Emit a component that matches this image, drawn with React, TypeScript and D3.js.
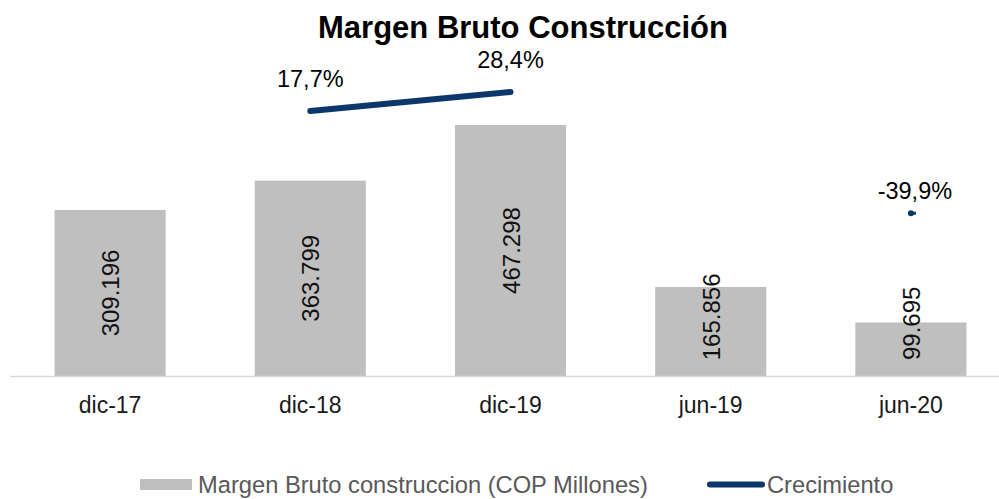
import React from "react";
import * as d3 from "d3";

const categories = ["dic-17", "dic-18", "dic-19", "jun-19", "jun-20"];
const margenBruto = [309196, 363799, 467298, 165856, 99695];
const crecimiento: (number | null)[] = [null, 17.7, 28.4, null, -39.9];
const title = "Margen Bruto Construcción";
const legendBar = "Margen Bruto construccion (COP Millones)";
const legendLine = "Crecimiento";

const W = 999;
const H = 499;
const FONT = "'Liberation Sans', Arial, sans-serif";
const BAR_COLOR = "#BFBFBF";
const LINE_COLOR = "#0B376B";

const locale = d3.formatLocale({ decimal: ",", thousands: ".", grouping: [3], currency: ["$", ""], minus: "-" });
const fmtInt = locale.format(",.0f");
const fmtPct = (v: number) => locale.format(".1f")(v).replace("\u2212", "-") + "%";

export default function App() {
  const x = d3.scaleBand<string>().domain(categories).range([10, 1011]).paddingInner(0.445).paddingOuter(0.2225);
  const y = d3.scaleLinear().domain([0, 500000]).range([376, 107.45]);
  const y2 = d3.scaleLinear().domain([-100, 60]).range([320, 35.84]);
  const cx = (c: string) => (x(c) as number) + x.bandwidth() / 2;

  const pts = categories.map((c, i) => ({ c, v: crecimiento[i] }));
  const line = d3
    .line<{ c: string; v: number | null }>()
    .defined((d) => d.v !== null)
    .x((d) => cx(d.c))
    .y((d) => y2(d.v as number));

  const isolated = (i: number) =>
    crecimiento[i] !== null &&
    (i === 0 || crecimiento[i - 1] === null) &&
    (i === crecimiento.length - 1 || crecimiento[i + 1] === null);

  const labelLen = (s: string) => s.length * 12.9;
  const legendBase = 493;

  return (
    <svg width={W} height={H} style={{ position: "absolute", left: 0, top: 0 }} fontFamily={FONT}>
      <rect width={W} height={H} fill="#fff" />
      <text x={523} y={37.5} textAnchor="middle" fontSize={31} fontWeight="bold" fill="#000">
        {title}
      </text>

      {/* bars */}
      {categories.map((c, i) => (
        <rect key={c} x={x(c)} y={y(margenBruto[i])} width={x.bandwidth()} height={y(0) - y(margenBruto[i])} fill={BAR_COLOR} />
      ))}

      {/* axis line */}
      <line x1={10} x2={999} y1={y(0) + 0.5} y2={y(0) + 0.5} stroke="#D9D9D9" strokeWidth={1.5} />

      {/* category labels */}
      {categories.map((c) => (
        <text key={c} x={cx(c)} y={413} textAnchor="middle" fontSize={23} fill="#1a1a1a">
          {c}
        </text>
      ))}

      {/* bar value labels */}
      {categories.map((c, i) => {
        const s = fmtInt(margenBruto[i]);
        const mid = (y(margenBruto[i]) + y(0)) / 2;
        const cy = Math.min(mid, y(0) - 14 - labelLen(s) / 2);
        return (
          <text
            key={c}
            transform={`translate(${cx(c) + 0.5},${cy}) rotate(-90)`}
            textAnchor="middle"
            dominantBaseline="central"
            fontSize={24}
            fill="#111"
          >
            {s}
          </text>
        );
      })}

      {/* growth line */}
      <path d={line(pts) || ""} fill="none" stroke={LINE_COLOR} strokeWidth={6} strokeLinecap="round" />
      {pts.map((p, i) =>
        isolated(i) ? (
          <rect key={p.c} x={cx(p.c) - 2} y={y2(p.v as number) - 1.5} width={7} height={3} fill={LINE_COLOR} />
        ) : null
      )}
      {pts.map((p, i) =>
        p.v !== null ? (
          <text key={p.c} x={cx(p.c) + (isolated(i) ? 4 : 0)} y={y2(p.v) - (isolated(i) ? 14.5 : 23.5)} textAnchor="middle" fontSize={23.5} fill="#000">
            {fmtPct(p.v)}
          </text>
        ) : null
      )}

      {/* legend */}
      <rect x={140} y={legendBase - 14} width={52} height={11} fill={BAR_COLOR} />
      <text x={198} y={legendBase} fontSize={23.7} fill="#595959">
        {legendBar}
      </text>
      <line x1={710} x2={762} y1={legendBase - 8.5} y2={legendBase - 8.5} stroke={LINE_COLOR} strokeWidth={6} strokeLinecap="round" />
      <text x={767} y={legendBase} fontSize={23.7} fill="#595959">
        {legendLine}
      </text>
    </svg>
  );
}
